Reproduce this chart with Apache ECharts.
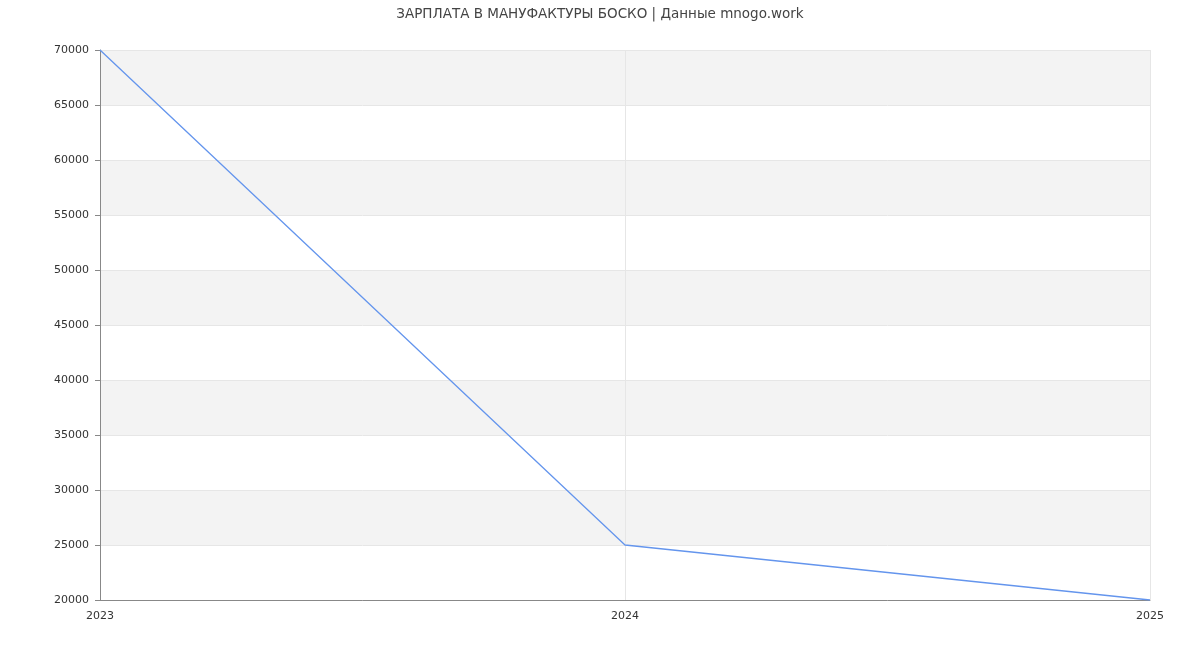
<!DOCTYPE html>
<html><head><meta charset="utf-8">
<script src="https://cdn.jsdelivr.net/npm/echarts@6/dist/echarts.min.js"></script>
<style>html,body{margin:0;padding:0;background:#fff}#c{width:1200px;height:650px}</style>
</head><body><div id="c"></div>
<script>
const categories = ['2023', '2024', '2025'];
const salary = [70000, 25000, 20000];
const titleText = 'ЗАРПЛАТА В МАНУФАКТУРЫ БОСКО | Данные mnogo.work';

const chart = echarts.init(document.getElementById('c'), null, {renderer: 'canvas'});
chart.setOption({
  animation: false,
  backgroundColor: '#fff',
  textStyle: {fontFamily: 'DejaVu Sans'},
  title: {
    text: titleText, left: 'center', top: 2,
    textStyle: {fontSize: 13.5, fontWeight: 'normal', color: '#444', fontFamily: 'DejaVu Sans'}
  },
  grid: {left: 100, right: 50, top: 50, bottom: 50, containLabel: false},
  xAxis: {
    type: 'category', data: categories, boundaryGap: false,
    axisLine: {show: true, lineStyle: {color: '#888'}},
    axisTick: {show: false},
    axisLabel: {color: '#333', fontSize: 11, margin: 11},
    splitLine: {show: true, lineStyle: {color: '#e6e6e6'}}
  },
  yAxis: {
    type: 'value', min: 20000, max: 70000, interval: 5000,
    axisLine: {show: true, lineStyle: {color: '#888'}},
    axisTick: {show: true, length: 5, lineStyle: {color: '#888'}},
    axisLabel: {color: '#333', fontSize: 11, margin: 11, formatter: v => String(v)},
    splitLine: {show: true, lineStyle: {color: '#e6e6e6'}},
    splitArea: {show: true, areaStyle: {color: ['#ffffff', '#f3f3f3']}}
  },
  series: [{
    type: 'line', data: salary, showSymbol: false, symbol: 'none',
    lineStyle: {color: '#6495ed', width: 1.3}
  }]
});
</script></body></html>
